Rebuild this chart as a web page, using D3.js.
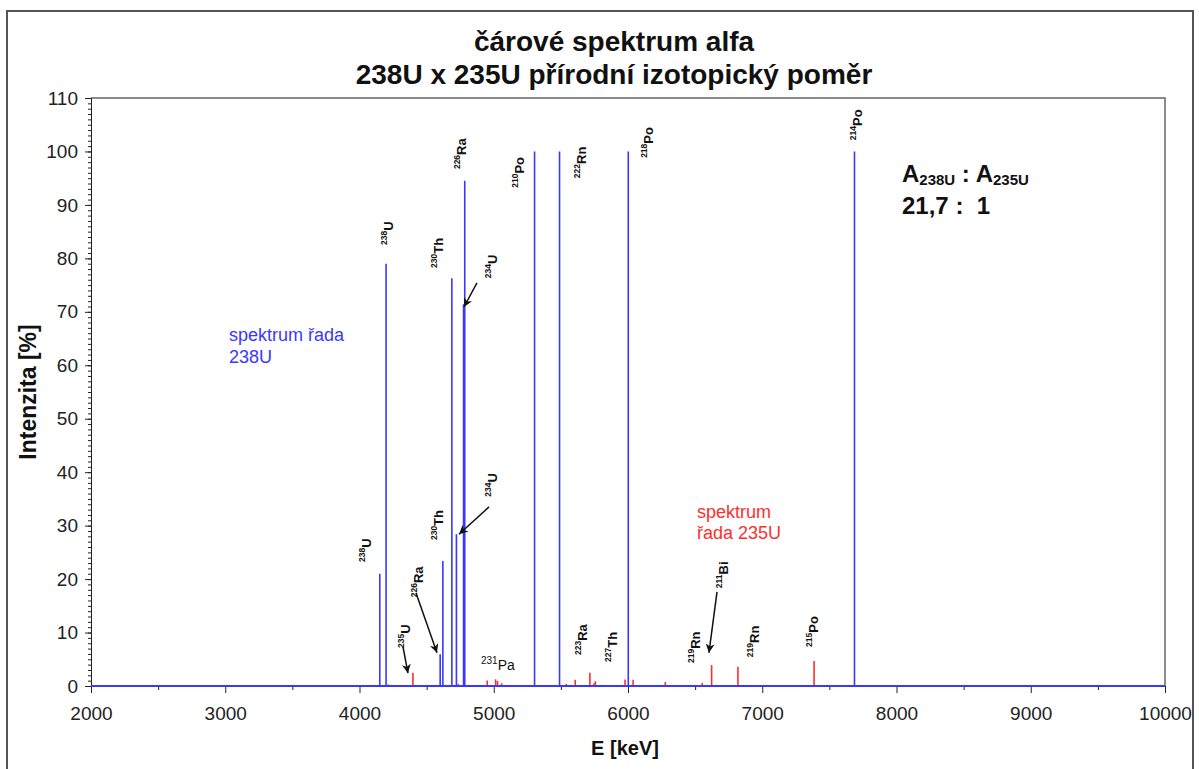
<!DOCTYPE html>
<html lang="cs">
<head>
    <meta charset="UTF-8">
    <title>čárové spektrum alfa</title>
    <script src="https://d3js.org/d3.v7.min.js"></script>
    <style>
        body { margin: 0; background: #fff; }
        svg { font-family: "Liberation Sans", Arial, sans-serif; }
        .tick text { font-size: 19px; fill: #222; }
        .tick line { stroke: #222; }
        .iso { font-weight: bold; fill: #111; }
    </style>
</head>
<body>
    <script>
        // energie [keV] a intenzita [%]
        const u238Energy = [4151, 4198, 4601, 4621, 4688, 4722, 4775, 4784, 5304, 5490, 6002, 7687];
        const u238Intensity = [21, 79, 5.95, 23.4, 76.3, 28.4, 71.4, 94.5, 100, 100, 100, 100];

        const u235Energy = [4215, 4398, 4736, 4951, 5014, 5028, 5059, 5540, 5607, 5716, 5747, 5757, 5978, 6038, 6278, 6553, 6623, 6819, 7386];
        const u235Intensity = [0.3, 2.5, 0.4, 1.05, 1.25, 0.95, 0.5, 0.4, 1.15, 2.5, 0.5, 0.9, 1.2, 1.15, 0.75, 0.6, 3.9, 3.6, 4.7];

        const xTicks = [2000, 3000, 4000, 5000, 6000, 7000, 8000, 9000, 10000];
        const yTicks = [0, 10, 20, 30, 40, 50, 60, 70, 80, 90, 100, 110];

        // popisky nuklidů (svislé)
        const labelMass = ["238", "230", "226", "234", "210", "222", "218", "214", "238", "230", "234", "226", "235", "223", "227", "219", "211", "219", "215"];
        const labelSym  = ["U", "Th", "Ra", "U", "Po", "Rn", "Po", "Po", "U", "Th", "U", "Ra", "U", "Ra", "Th", "Rn", "Bi", "Rn", "Po"];
        const labelE    = [4253, 4622, 4793, 5024, 5225, 5687, 6186, 7743, 4086, 4622, 5024, 4473, 4376, 5695, 5918, 6536, 6745, 6976, 7415];
        const labelI    = [82.5, 78.2, 96.7, 76.3, 93.2, 95.0, 98.8, 102.1, 23.2, 27.3, 35.4, 16.6, 7.1, 5.8, 4.5, 4.3, 18.3, 5.4, 7.3];

        // šipky: odkud -> kam
        const arrowE0 = [4875, 4965, 4421, 4324, 6663];
        const arrowI0 = [75.4, 33.5, 17.4, 7.3, 17.6];
        const arrowE1 = [4778, 4741, 4577, 4361, 6603];
        const arrowI1 = [70.9, 28.4, 6.2, 2.4, 6.2];

        const width = 1199, height = 769;
        const blue = "#3838ff", red = "#ff2e2e";

        const svg = d3.select("body").append("svg")
            .attr("width", width)
            .attr("height", height);

        svg.append("rect")
            .attr("x", 7).attr("y", 11)
            .attr("width", 1186).attr("height", 800)
            .attr("fill", "none").attr("stroke", "#555").attr("stroke-width", 2);

        const x = d3.scaleLinear().domain([2000, 10000]).range([91, 1165]);
        const y = d3.scaleLinear().domain([0, 110]).range([686, 98]);

        // rámeček plochy grafu
        svg.append("path")
            .attr("d", `M${x(2000)},${y(110)}H${x(10000)}V${y(0)}`)
            .attr("fill", "none").attr("stroke", "#666").attr("stroke-width", 1.5);

        // osy
        svg.append("g")
            .attr("transform", `translate(${x(2000)},0)`)
            .call(d3.axisLeft(y).tickValues(d3.range(0, 111, 1)).tickSize(3).tickFormat(""))
            .call(g => g.select(".domain").remove());
        svg.append("g")
            .attr("transform", `translate(${x(2000)},0)`)
            .call(d3.axisLeft(y).tickValues(yTicks).tickSize(6).tickPadding(7))
            .call(g => g.select(".domain").attr("stroke", "#222"));

        svg.append("g")
            .attr("transform", `translate(0,${y(0)})`)
            .call(d3.axisBottom(x).tickValues(d3.range(2500, 10000, 1000)).tickSize(4).tickFormat(""))
            .call(g => g.select(".domain").remove());
        svg.append("g")
            .attr("transform", `translate(0,${y(0)})`)
            .call(d3.axisBottom(x).tickValues(xTicks).tickSize(7).tickPadding(14).tickFormat(d3.format("d")))
            .call(g => g.select(".domain").attr("stroke", "#222"));

        // čáry řady 235U
        svg.selectAll(".r235")
            .data(d3.zip(u235Energy, u235Intensity))
            .enter().append("line")
            .attr("class", "r235")
            .attr("x1", d => x(d[0])).attr("x2", d => x(d[0]))
            .attr("y1", y(0)).attr("y2", d => y(d[1]))
            .attr("stroke", red).attr("stroke-width", 1.6);

        // čáry řady 238U
        svg.selectAll(".r238")
            .data(d3.zip(u238Energy, u238Intensity))
            .enter().append("line")
            .attr("class", "r238")
            .attr("x1", d => x(d[0])).attr("x2", d => x(d[0]))
            .attr("y1", y(0)).attr("y2", d => y(d[1]))
            .attr("stroke", blue).attr("stroke-width", 1.6);

        svg.append("path")
            .datum([[2000, 0], [10000, 0]])
            .attr("d", d3.line().x(d => x(d[0])).y(d => y(d[1])))
            .attr("stroke", blue).attr("stroke-width", 2.2);

        // popisky nuklidů
        labelSym.forEach((s, i) => {
            const t = svg.append("text")
                .attr("class", "iso")
                .attr("transform", `translate(${x(labelE[i])},${y(labelI[i])}) rotate(-90)`);
            t.append("tspan").attr("font-size", 8.5).attr("dy", -6).text(labelMass[i]);
            t.append("tspan").attr("font-size", 13).attr("dy", 6).text(s);
        });

        const pa = svg.append("text")
            .attr("x", x(4905)).attr("y", y(2.9))
            .attr("fill", "#111");
        pa.append("tspan").attr("font-size", 10).attr("dy", -6).text("231");
        pa.append("tspan").attr("font-size", 14).attr("dy", 6).text("Pa");

        // šipky
        svg.append("defs").append("marker")
            .attr("id", "arrow")
            .attr("viewBox", "0 0 10 10")
            .attr("refX", 10).attr("refY", 5)
            .attr("markerWidth", 10).attr("markerHeight", 9)
            .attr("markerUnits", "userSpaceOnUse")
            .attr("orient", "auto")
            .append("path")
            .attr("d", "M0,0L10,5L0,10L3,5Z")
            .attr("fill", "#111");

        svg.selectAll(".arrow")
            .data(d3.range(arrowE0.length))
            .enter().append("line")
            .attr("class", "arrow")
            .attr("x1", i => x(arrowE0[i])).attr("y1", i => y(arrowI0[i]))
            .attr("x2", i => x(arrowE1[i])).attr("y2", i => y(arrowI1[i]))
            .attr("stroke", "#111").attr("stroke-width", 1.5)
            .attr("marker-end", "url(#arrow)");

        // popisky řad
        svg.append("text").attr("x", 229).attr("y", 341)
            .attr("fill", blue).attr("font-size", 18)
            .selectAll("tspan").data(["spektrum řada", "238U"]).enter()
            .append("tspan").attr("x", 229).attr("dy", (d, i) => i ? 22 : 0).text(d => d);

        svg.append("text").attr("x", 697).attr("y", 518)
            .attr("fill", red).attr("font-size", 18)
            .selectAll("tspan").data(["spektrum", "řada 235U"]).enter()
            .append("tspan").attr("x", 697).attr("dy", (d, i) => i ? 21 : 0).text(d => d);

        // poměr aktivit
        const ratio = svg.append("text")
            .attr("x", 902).attr("y", 182)
            .attr("font-size", 24).attr("font-weight", "bold").attr("fill", "#111");
        ratio.append("tspan").text("A");
        ratio.append("tspan").attr("font-size", 15).attr("dy", 3).text("238U");
        ratio.append("tspan").attr("dy", -3).text(" : A");
        ratio.append("tspan").attr("font-size", 15).attr("dy", 3).text("235U");

        svg.append("text")
            .attr("x", 902).attr("y", 214)
            .attr("font-size", 24).attr("font-weight", "bold").attr("fill", "#111")
            .attr("xml:space", "preserve")
            .style("white-space", "pre")
            .text("21,7 :  1");

        // nadpis a popisy os
        svg.append("text")
            .attr("x", 614).attr("y", 51)
            .attr("text-anchor", "middle")
            .attr("font-size", 28).attr("font-weight", "bold").attr("fill", "#111")
            .text("čárové spektrum alfa");
        svg.append("text")
            .attr("x", 614).attr("y", 84)
            .attr("text-anchor", "middle")
            .attr("font-size", 28).attr("font-weight", "bold").attr("fill", "#111")
            .text("238U x 235U přírodní izotopický poměr");

        svg.append("text")
            .attr("transform", `translate(36,${(y(0) + y(110)) / 2}) rotate(-90)`)
            .attr("text-anchor", "middle")
            .attr("font-size", 23).attr("font-weight", "bold").attr("fill", "#111")
            .text("Intenzita [%]");

        svg.append("text")
            .attr("x", 625).attr("y", 755)
            .attr("text-anchor", "middle")
            .attr("font-size", 20).attr("font-weight", "bold").attr("fill", "#111")
            .text("E [keV]");
    </script>
</body>
</html>
